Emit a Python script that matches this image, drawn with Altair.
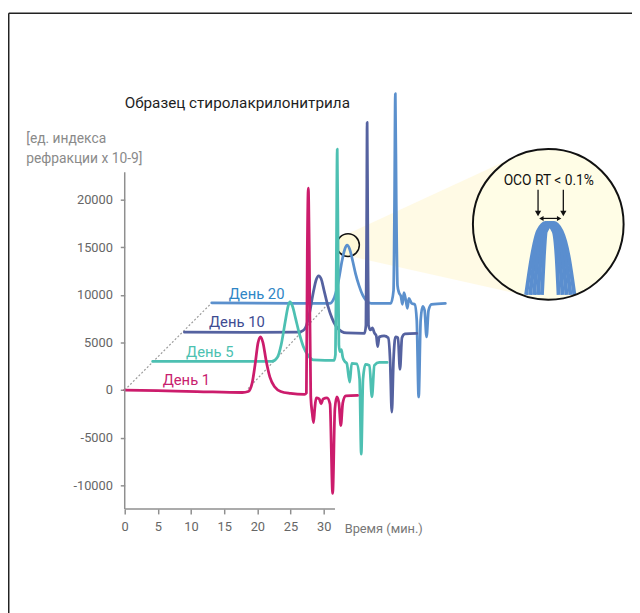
import altair as alt
import pandas as pd

# ---------------- text ----------------
TITLE = "Образец стиролакрилонитрила"
Y_TITLE = ["[ед. индекса", "рефракции x 10-9]"]
X_TITLE = "Время (мин.)"
INSET_TEXT = "OCO RT < 0.1%"
X_TICKS = [0, 5, 10, 15, 20, 25, 30]
Y_TICKS = [-10000, -5000, 0, 5000, 10000, 15000, 20000]
SERIES = ["День 1", "День 5", "День 10", "День 20"]

# ---------------- traces (time in min, signal) ----------------
day1_t = [0, 4.95, 10.89, 17.73, 18.62, 19.21, 19.66, 20.10, 20.48, 20.85, 21.29, 21.89, 22.63, 23.52,
          25.01, 27.09, 27.39, 27.53, 27.68, 27.83, 28.05, 28.28, 28.47, 28.65, 28.87, 29.32, 29.61,
          29.91, 30.50, 30.95, 31.35, 31.69, 31.99, 32.29, 32.58, 32.88, 33.33, 35.11]
day1_v = [0, -72, -155, -259, -155, 725, 2692, 4969, 5590, 4969, 3209, 1346, 311, -155,
          -362, -466, -311, 14596, 21222, 14596, -725, -2484, -3416, -1967, -828, -932, -1449,
          -932, -828, -1449, -10870, -1967, -725, -1346, -3727, -1346, -621, -569]

day5_t = [4.21, 10.89, 22.18, 23.0, 23.59, 24.19, 24.63, 24.90, 25.30, 25.75, 26.34, 26.94, 27.68,
          28.43, 30.21, 31.55, 31.77, 31.92, 32.04, 32.17, 32.29, 32.44, 32.66, 32.88, 33.18, 33.48,
          33.92, 34.22, 34.97, 35.41, 35.66, 35.93, 36.30, 36.90, 37.27, 37.64, 38.38, 39.57]
day5_v = [3002, 3002, 3002, 3416, 4762, 7143, 8799, 9265, 8799, 7557, 5901, 4555, 3623,
          3157, 3106, 3106, 3727, 14596, 25311, 14596, 4762, 4037, 4244, 3416, 3002, 2795,
          828, 2795, 2743, 1139, -6729, 1139, 2692, 2588, -725, 2588, 2899, 2899]

day10_t = [9.0, 18.32, 26.24, 26.79, 27.24, 27.83, 28.43, 28.87, 29.24, 29.61, 30.06, 30.65, 31.25,
           31.84, 32.69, 33.48, 36.15, 36.37, 36.48, 36.55, 36.64, 36.75, 37.04, 37.34, 37.64, 37.93,
           38.13, 38.38, 39.12, 39.72, 40.01, 40.27, 40.53, 40.83, 41.20, 41.50, 41.80, 42.24, 44.03]
day10_v = [6077, 6056, 6077, 6211, 6522, 7971, 10248, 11594, 12008, 11698, 10456, 8799, 7557,
           6729, 6159, 6004, 5952, 6832, 17702, 28127, 17702, 6832, 6315, 6522, 6004, 5694,
           4555, 5590, 5694, 5487, 3209, -2329, 3209, 5590, 5487, 2174, 5487, 5901, 5952]

day20_t = [13.12, 25.75, 30.95, 31.40, 31.84, 32.29, 32.73, 33.18, 33.52, 33.92, 34.37, 34.81, 35.33,
           35.90, 36.45, 37.15, 40.12, 40.53, 40.68, 40.80, 40.94, 41.13, 41.35, 41.65, 41.87, 42.10,
           42.39, 42.62, 42.84, 43.28, 43.73, 44.03, 44.32, 44.62, 44.92, 45.21, 45.51, 45.81, 46.26, 48.34]
day20_v = [9162, 9110, 9110, 9421, 10248, 11698, 13458, 14803, 15217, 14803, 13561, 12215, 10973,
           9938, 9369, 9110, 9110, 10456, 19772, 31160, 19772, 10973, 10248, 9835, 9006, 10248,
           9421, 8592, 9627, 9110, 9006, 7350, -725, 7350, 8799, 8385, 5590, 8385, 9006, 9110]

# dotted guide lines
guideA_t = [0, 13.12]
guideA_v = [0, 9162]
guideB_t = [18.6, 30.75]
guideB_v = [150, 9110]

# series labels
label_t = [9.30, 12.82, 16.91, 19.88]
label_v = [518, 3489, 6594, 9524]

# axis line extents
X_AXIS_END = 31.7
Y_AXIS_LO = -12500
Y_AXIS_HI = 22900

# magnifier
small_c_t, small_c_v = [33.67], [15230]
big_c_t, big_c_v = [63.86], [17417]
cone_t = [33.34, 59.93]
cone_lo = [14156, 10016]
cone_hi = [16330, 24871]

zoom_v = [10000, 14079, 16667, 17547, 16667, 14079, 10000]
zoom_t0 = [60.52, 61.41, 62.30, 63.49, 64.68, 65.12, 65.42]
zoom_t1 = [61.12, 61.86, 62.60, 63.79, 64.98, 65.57, 66.02]
zoom_t2 = [61.71, 62.30, 62.90, 64.09, 65.27, 66.02, 66.61]
zoom_t3 = [62.30, 62.75, 63.19, 64.38, 65.57, 66.46, 67.21]
zoom_t4 = [62.90, 63.19, 63.49, 64.68, 65.87, 66.91, 67.80]

arrow_t = [62.32, 66.13]
arrow_v_top, arrow_v_bot, arrow_head_v = 21040, 18763, 18556
dbl_t1, dbl_t2, dbl_v = 63.05, 65.28, 18039
dbl_head_left, dbl_head_right = 62.82, 65.50
inset_text_t, inset_text_v = 63.94, 21590

# ---------------- styling ----------------
F = "Roboto"
AX = "#8f8f8f"
LINE_COLORS = ["#CC1C6C", "#4DC0B2", "#5562A0", "#5B90CD"]
LABEL_COLORS = ["#C8206E", "#4CC1B1", "#3E4C92", "#2F86C6"]
W, H = 505, 480

xs = alt.Scale(domain=[0, 75], nice=False, zero=False)
ys = alt.Scale(domain=[-12500, 37189], nice=False, zero=False)

x_axis = alt.Axis(values=X_TICKS, domain=False, grid=False, tickSize=5, tickWidth=1.5, tickColor=AX,
                  labelFont=F, labelFontSize=13, labelColor="#666666", labelPadding=7, labelFlush=False,
                  labelExpr="'' + datum.value", title=X_TITLE, titleFont=F, titleFontSize=13,
                  titleFontWeight="normal", titleColor="#777777", titleAlign="left",
                  titleBaseline="alphabetic", titleX=222.8, titleY=24.3)
y_axis = alt.Axis(values=Y_TICKS, domain=False, grid=False, tickSize=4.5, tickWidth=1.5, tickColor=AX,
                  labelFont=F, labelFontSize=13, labelColor="#666666", labelPadding=8, labelFlush=False,
                  labelExpr="'' + datum.value", title=Y_TITLE, titleFont=F, titleFontSize=14,
                  titleFontWeight="normal", titleColor="#8a8a8a", titleAngle=0, titleAlign="left",
                  titleBaseline="alphabetic", titleX=-100.5, titleY=108, titleLineHeight=20)


def X(f):
    return alt.X(f, type="quantitative", scale=xs, axis=x_axis)


def Y(f):
    return alt.Y(f, type="quantitative", scale=ys, axis=y_axis)


one = pd.DataFrame({"k": [0]})

layers = []

# frame
layers.append(alt.Chart(one).mark_rule(color="#222222", strokeWidth=1.5).encode(
    x=alt.value(-117.75), x2=alt.value(530), y=alt.value(-23.25)))
layers.append(alt.Chart(one).mark_rule(color="#222222", strokeWidth=1.5).encode(
    x=alt.value(-117.75), y=alt.value(-23.25), y2=alt.value(600)))

# cone
cone_df = pd.DataFrame({"t": cone_t, "v": cone_lo, "hi": cone_hi})
layers.append(alt.Chart(cone_df).mark_area(color="#FFF6CC", opacity=0.5).encode(
    x=X("t"), y=Y("v"), y2="hi"))

# big circle fill
layers.append(alt.Chart(pd.DataFrame({"t": big_c_t, "v": big_c_v})).mark_point(
    shape="circle", filled=True, size=23409, color="#FFFDE6", opacity=1).encode(x=X("t"), y=Y("v")))

# small circle
layers.append(alt.Chart(pd.DataFrame({"t": small_c_t, "v": small_c_v})).mark_point(
    shape="circle", filled=True, size=529, fill="#FFF9D8", stroke="#111111", strokeWidth=1.5,
    opacity=1).encode(x=X("t"), y=Y("v")))

# guides
guide_df = pd.DataFrame({"t": guideA_t + guideB_t, "v": guideA_v + guideB_v,
                         "g": ["a", "a", "b", "b"]})
layers.append(alt.Chart(guide_df).mark_line(color="#9a9a9a", strokeWidth=1.2, strokeDash=[2, 2]).encode(
    x=X("t"), y=Y("v"), detail="g:N"))

# traces, back to front
traces = [(day20_t, day20_v, LINE_COLORS[3]), (day10_t, day10_v, LINE_COLORS[2]),
          (day5_t, day5_v, LINE_COLORS[1]), (day1_t, day1_v, LINE_COLORS[0])]
for tt, vv, col in traces:
    layers.append(alt.Chart(pd.DataFrame({"t": tt, "v": vv})).mark_line(
        color=col, strokeWidth=2.8, interpolate="monotone", strokeCap="round", strokeJoin="round").encode(
        x=X("t"), y=Y("v")))

# series labels
lab_df = pd.DataFrame({"t": label_t, "v": label_v, "s": SERIES})
layers.append(alt.Chart(lab_df).mark_text(font=F, fontSize=15, fontWeight="normal", align="center",
                                          baseline="alphabetic").encode(
    x=X("t"), y=Y("v"), text="s:N",
    color=alt.Color("s:N", scale=alt.Scale(domain=SERIES, range=LABEL_COLORS), legend=None)))

# zoomed peak lines
zrows = []
for i, zt in enumerate([zoom_t0, zoom_t1, zoom_t2, zoom_t3, zoom_t4]):
    for a, b in zip(zt, zoom_v):
        zrows.append({"t": a, "v": b, "g": i})
layers.append(alt.Chart(pd.DataFrame(zrows)).mark_line(
    color="#5A8ECF", strokeWidth=4, interpolate="monotone", strokeCap="butt").encode(
    x=X("t"), y=Y("v"), detail="g:N"))

# big circle stroke
layers.append(alt.Chart(pd.DataFrame({"t": big_c_t, "v": big_c_v})).mark_point(
    shape="circle", filled=False, size=23409, color="#111111", strokeWidth=2, opacity=1).encode(
    x=X("t"), y=Y("v")))

# arrows
arr_df = pd.DataFrame({"t": arrow_t, "v": [arrow_v_top] * 2, "v2": [arrow_v_bot] * 2})
layers.append(alt.Chart(arr_df).mark_rule(color="#111111", strokeWidth=1.3).encode(
    x=X("t"), y=Y("v"), y2="v2"))
layers.append(alt.Chart(pd.DataFrame({"t": arrow_t, "v": [arrow_head_v] * 2})).mark_point(
    shape="triangle-down", filled=True, size=40, color="#111111", opacity=1).encode(x=X("t"), y=Y("v")))
layers.append(alt.Chart(pd.DataFrame({"t": [dbl_t1], "t2": [dbl_t2], "v": [dbl_v]})).mark_rule(
    color="#111111", strokeWidth=1.2).encode(x=X("t"), x2="t2", y=Y("v")))
layers.append(alt.Chart(pd.DataFrame({"t": [dbl_head_left], "v": [dbl_v]})).mark_point(
    shape="triangle-left", filled=True, size=26, color="#111111", opacity=1).encode(x=X("t"), y=Y("v")))
layers.append(alt.Chart(pd.DataFrame({"t": [dbl_head_right], "v": [dbl_v]})).mark_point(
    shape="triangle-right", filled=True, size=26, color="#111111", opacity=1).encode(x=X("t"), y=Y("v")))

# inset text
layers.append(alt.Chart(pd.DataFrame({"t": [inset_text_t], "v": [inset_text_v], "s": [INSET_TEXT]})).mark_text(
    font=F, fontSize=14, color="#111111", align="center", baseline="alphabetic").encode(
    x=X("t"), y=Y("v"), text="s:N"))

# axis lines
layers.append(alt.Chart(pd.DataFrame({"t": [0], "v": [Y_AXIS_LO], "v2": [Y_AXIS_HI]})).mark_rule(
    color=AX, strokeWidth=1.5).encode(x=X("t"), y=Y("v"), y2="v2"))
layers.append(alt.Chart(pd.DataFrame({"t": [0], "t2": [X_AXIS_END], "v": [Y_AXIS_LO]})).mark_rule(
    color=AX, strokeWidth=1.5).encode(x=X("t"), x2="t2", y=Y("v")))

# title
layers.append(alt.Chart(one).mark_text(text=TITLE, align="left", baseline="alphabetic", font=F,
                                       fontSize=15.5, color="#1e1e1e").encode(
    x=alt.value(0), y=alt.value(73)))

chart = alt.layer(*layers).properties(
    width=W, height=H,
    padding={"left": 118.5, "top": 24, "right": 10, "bottom": 101},
    autosize=alt.AutoSizeParams(type="none"),
).configure_view(stroke=None)

chart.save("out.html", embed_options={"renderer": "svg", "actions": False})
